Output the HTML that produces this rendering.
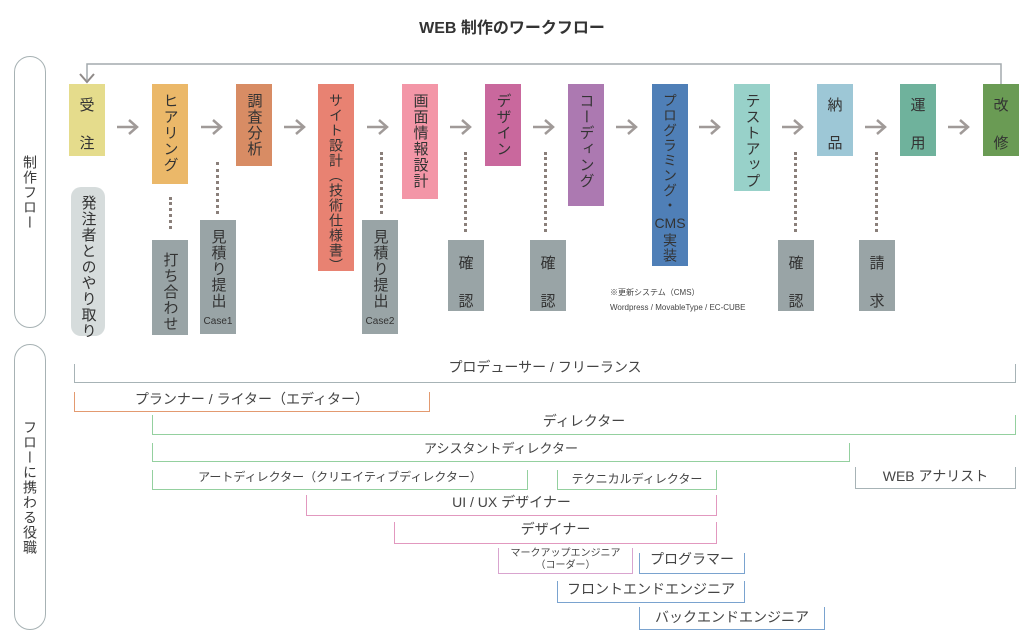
<!DOCTYPE html>
<html><head><meta charset="utf-8">
<style>
*{margin:0;padding:0;box-sizing:border-box}
body{width:1024px;height:636px;background:#fff;position:relative;overflow:hidden;font-family:"Liberation Sans","Noto Sans CJK JP",sans-serif;color:#3a3a3a}
.a{position:absolute}
.box{position:absolute;width:36px;top:84px;display:flex;flex-direction:column;align-items:center;padding-top:9px;font-size:15px;color:#333;overflow:visible}
.v{writing-mode:vertical-rl;letter-spacing:1px;line-height:1;white-space:nowrap}
.g{background:#99a4a6;top:auto}
.dot{position:absolute;width:0;border-left:3px dotted #8a7f7a}
.br{position:absolute;border:1.5px solid;border-top:none;font-size:13px;text-align:center;color:#444;white-space:nowrap}
.pill{position:absolute;border:1.5px solid #a7b2b4;border-radius:16px}
</style></head><body>
<div class="a" style="left:0;width:1024px;top:14px;text-align:center;font-size:16px;font-weight:bold;color:#333">WEB 制作のワークフロー</div>

<div class="pill" style="left:14px;top:56px;width:32px;height:272px"></div>
<div class="a v" style="left:23px;top:155px;font-size:14px">制作フロー</div>
<div class="pill" style="left:14px;top:344px;width:32px;height:286px"></div>
<div class="a v" style="left:23px;top:420px;font-size:14px">フローに携わる役職</div>

<svg class="a" style="left:0;top:0" width="1024" height="636">
<polyline points="1001,84 1001,64 87,64 87,80" fill="none" stroke="#a3aaad" stroke-width="1.5"/>
<polyline points="80,74 87,82 94,74" fill="none" stroke="#8f8a88" stroke-width="2"/>
<g stroke="#a09a98" stroke-width="2.5" fill="none">
<g id="ar"><line x1="117" y1="127" x2="136" y2="127"/><polyline points="129,120 137,127 129,134"/></g>
<use href="#ar" x="84"/><use href="#ar" x="167"/><use href="#ar" x="250"/><use href="#ar" x="333"/><use href="#ar" x="416"/><use href="#ar" x="499"/><use href="#ar" x="582"/><use href="#ar" x="665"/><use href="#ar" x="748"/><use href="#ar" x="831"/>
</g>
</svg>

<div class="box" style="left:69px;height:72px;background:#e5dc8c;padding-top:10px">受<br><br>注</div>
<div class="box" style="left:152px;height:100px;background:#ebb869"><span class="v">ヒアリング</span></div>
<div class="box" style="left:236px;height:82px;background:#d88c64"><span class="v">調査分析</span></div>
<div class="box" style="left:318px;height:187px;background:#e88272;font-size:14px"><span class="v">サイト設計（技術仕様書）</span></div>
<div class="box" style="left:402px;height:115px;background:#f396a7"><span class="v">画面情報設計</span></div>
<div class="box" style="left:485px;height:82px;background:#c9689d"><span class="v">デザイン</span></div>
<div class="box" style="left:568px;height:122px;background:#ac79b1"><span class="v">コーディング</span></div>
<div class="box" style="left:652px;height:182px;background:#4f7fb7;font-size:14px"><span class="v">プログラミング・</span><span style="font-size:14px;line-height:20px">CMS</span><span class="v">実装</span></div>
<div class="box" style="left:734px;height:107px;background:#98d1c9"><span class="v">テストアップ</span></div>
<div class="box" style="left:817px;height:72px;background:#9dc7d6;padding-top:10px">納<br><br>品</div>
<div class="box" style="left:900px;height:72px;background:#6fb29c;padding-top:10px">運<br><br>用</div>
<div class="box" style="left:983px;height:72px;background:#6a9b54;padding-top:10px">改<br><br>修</div>

<div class="box" style="left:71px;top:187px;width:34px;height:149px;background:#d6dcdc;border-radius:10px;padding-top:8px"><span class="v">発注者とのやり取り</span></div>
<div class="box g" style="left:152px;top:240px;height:95px;padding-top:12px"><span class="v">打ち合わせ</span></div>
<div class="box g" style="left:200px;top:220px;height:114px"><span class="v">見積り提出</span><span style="font-size:10px;margin-top:7px">Case1</span></div>
<div class="box g" style="left:362px;top:220px;height:114px"><span class="v">見積り提出</span><span style="font-size:10px;margin-top:7px">Case2</span></div>
<div class="box g" style="left:448px;top:240px;height:71px;padding-top:12px">確<br><br>認</div>
<div class="box g" style="left:530px;top:240px;height:71px;padding-top:12px">確<br><br>認</div>
<div class="box g" style="left:778px;top:240px;height:71px;padding-top:12px">確<br><br>認</div>
<div class="box g" style="left:859px;top:240px;height:71px;padding-top:12px">請<br><br>求</div>

<div class="dot" style="left:169px;top:197px;height:32px"></div>
<div class="dot" style="left:216px;top:162px;height:52px"></div>
<div class="dot" style="left:380px;top:152px;height:62px"></div>
<div class="dot" style="left:464px;top:152px;height:80px"></div>
<div class="dot" style="left:544px;top:152px;height:80px"></div>
<div class="dot" style="left:794px;top:152px;height:80px"></div>
<div class="dot" style="left:875px;top:152px;height:80px"></div>

<div class="a" style="left:610px;top:285px;font-size:8px;line-height:15px;color:#444">※更新システム（CMS）<br>Wordpress / MovableType / EC-CUBE</div>

<div class="br" style="left:74px;top:364px;width:942px;height:19px;border-color:#a7b3b6;font-size:14px;line-height:6px">プロデューサー / フリーランス</div>
<div class="br" style="left:74px;top:392px;width:356px;height:20px;border-color:#e39a70;font-size:14px;line-height:14px">プランナー / ライター（エディター）</div>
<div class="br" style="left:152px;top:415px;width:864px;height:20px;border-color:#94d09f;font-size:14px;line-height:12px">ディレクター</div>
<div class="br" style="left:152px;top:443px;width:698px;height:19px;border-color:#94d09f;line-height:12px">アシスタントディレクター</div>
<div class="br" style="left:152px;top:470px;width:376px;height:20px;border-color:#94d09f;font-size:12px;line-height:14px">アートディレクター（クリエイティブディレクター）</div>
<div class="br" style="left:557px;top:470px;width:160px;height:20px;border-color:#94d09f;font-size:12px;line-height:18px">テクニカルディレクター</div>
<div class="br" style="left:855px;top:467px;width:161px;height:22px;border-color:#a7b3b6;font-size:14px;line-height:18px">WEB アナリスト</div>
<div class="br" style="left:306px;top:495px;width:411px;height:21px;border-color:#e298bf;font-size:14px;line-height:14px">UI / UX デザイナー</div>
<div class="br" style="left:394px;top:522px;width:323px;height:22px;border-color:#e298bf;font-size:14px;line-height:14px">デザイナー</div>
<div class="br" style="left:498px;top:548px;width:135px;height:26px;border-color:#d9a4cf;font-size:10px;line-height:12px">マークアップエンジニア<br>（コーダー）</div>
<div class="br" style="left:639px;top:553px;width:106px;height:21px;border-color:#7aa3cf;font-size:14px;line-height:12px">プログラマー</div>
<div class="br" style="left:557px;top:581px;width:188px;height:22px;border-color:#7aa3cf;font-size:14px;line-height:16px">フロントエンドエンジニア</div>
<div class="br" style="left:639px;top:607px;width:186px;height:23px;border-color:#7aa3cf;font-size:14px;line-height:20px">バックエンドエンジニア</div>
</body></html>
